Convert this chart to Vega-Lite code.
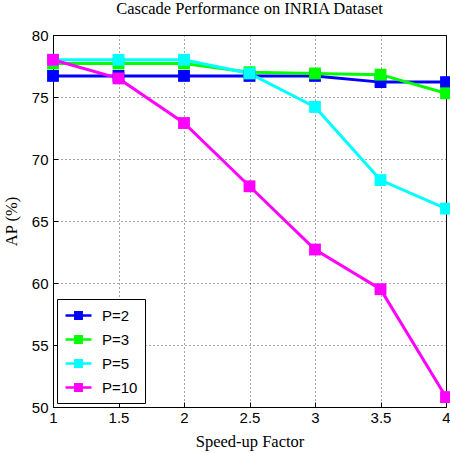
{
  "$schema": "https://vega.github.io/schema/vega-lite/v6.json",
  "autosize": {"type": "none"},
  "width": 393,
  "height": 372,
  "padding": {"left": 53, "top": 35, "right": 4, "bottom": 46},
  "background": "white",
  "title": {"text": "Cascade Performance on INRIA Dataset", "font": "Liberation Serif", "fontSize": 16.5, "fontWeight": "normal", "color": "black", "offset": 11, "anchor": "middle"},
  "data": {"values": [
    {"x": 1, "P": "P=2", "ap": 76.7}, {"x": 1.5, "P": "P=2", "ap": 76.7}, {"x": 2, "P": "P=2", "ap": 76.7}, {"x": 2.5, "P": "P=2", "ap": 76.7}, {"x": 3, "P": "P=2", "ap": 76.7}, {"x": 3.5, "P": "P=2", "ap": 76.2}, {"x": 4, "P": "P=2", "ap": 76.2},
    {"x": 1, "P": "P=3", "ap": 77.7}, {"x": 1.5, "P": "P=3", "ap": 77.7}, {"x": 2, "P": "P=3", "ap": 77.7}, {"x": 2.5, "P": "P=3", "ap": 77.0}, {"x": 3, "P": "P=3", "ap": 76.9}, {"x": 3.5, "P": "P=3", "ap": 76.8}, {"x": 4, "P": "P=3", "ap": 75.3},
    {"x": 1, "P": "P=5", "ap": 78.0}, {"x": 1.5, "P": "P=5", "ap": 78.0}, {"x": 2, "P": "P=5", "ap": 78.0}, {"x": 2.5, "P": "P=5", "ap": 76.9}, {"x": 3, "P": "P=5", "ap": 74.2}, {"x": 3.5, "P": "P=5", "ap": 68.3}, {"x": 4, "P": "P=5", "ap": 66.0},
    {"x": 1, "P": "P=10", "ap": 78.0}, {"x": 1.5, "P": "P=10", "ap": 76.5}, {"x": 2, "P": "P=10", "ap": 72.9}, {"x": 2.5, "P": "P=10", "ap": 67.8}, {"x": 3, "P": "P=10", "ap": 62.7}, {"x": 3.5, "P": "P=10", "ap": 59.5}, {"x": 4, "P": "P=10", "ap": 50.8}
  ]},
  "encoding": {
    "x": {"field": "x", "type": "quantitative", "scale": {"domain": [1, 4], "nice": false, "zero": false},
      "axis": {"values": [1, 1.5, 2, 2.5, 3, 3.5, 4], "format": "~g", "title": "Speed-up Factor", "labelFlush": false}},
    "y": {"field": "ap", "type": "quantitative", "scale": {"domain": [50, 80], "nice": false, "zero": false},
      "axis": {"values": [50, 55, 60, 65, 70, 75, 80], "title": "AP (%)"}},
    "color": {"field": "P", "type": "nominal",
      "scale": {"domain": ["P=2", "P=3", "P=5", "P=10"], "range": ["#0000ff", "#00ff00", "#00ffff", "#ff00ff"]},
      "legend": {"title": null, "orient": "bottom-left", "offset": 4,
        "symbolType": "M-1.625,0H1.625M-0.4,-0.4H0.4V0.4H-0.4Z", "symbolSize": 256, "symbolStrokeWidth": 2.5,
        "labelFont": "Liberation Sans", "labelFontSize": 15, "labelColor": "black", "rowPadding": 6,
        "padding": 7, "strokeColor": "black", "fillColor": "white", "symbolOffset": 5, "labelOffset": 14}},
    "order": {"field": "x", "type": "quantitative"}
  },
  "layer": [
    {"mark": {"type": "line", "strokeWidth": 3, "clip": false}},
    {"mark": {"type": "point", "shape": "square", "filled": true, "size": 140, "opacity": 1, "clip": false}}
  ],
  "config": {
    "view": {"stroke": "black", "strokeWidth": 1},
    "axis": {
      "labelFont": "Liberation Sans", "labelFontSize": 15, "labelColor": "black",
      "titleFont": "Liberation Serif", "titleFontSize": 16.5, "titleFontWeight": "normal", "titleColor": "black",
      "grid": true, "gridColor": "black", "gridDash": [1, 3], "gridOpacity": 0.7,
      "domain": false, "tickColor": "black", "tickSize": -5, "labelPadding": 10
    },
    "axisY": {"titlePadding": 12},
    "axisX": {"titlePadding": 8, "labelPadding": 8, "titleFont": "Liberation Serif"}
  }
}
